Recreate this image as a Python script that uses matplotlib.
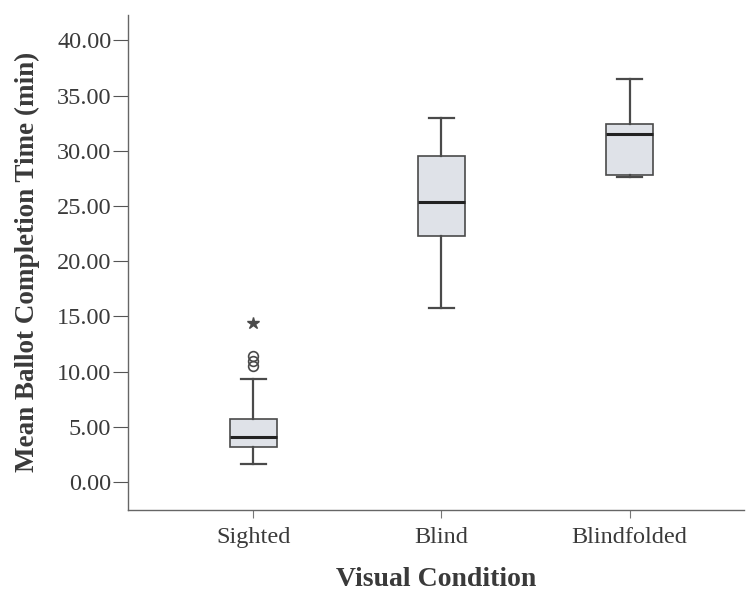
import matplotlib.pyplot as plt

conditions = ["Sighted", "Blind", "Blindfolded"]
q1 = [3.2, 22.3, 27.8]
medians = [4.1, 25.4, 31.5]
q3 = [5.7, 29.5, 32.4]
whisker_lo = [1.6, 15.8, 27.6]
whisker_hi = [9.3, 33.0, 36.5]
outliers = [[10.5, 11.0, 11.4], [], []]
extremes = [[14.4], [], []]

plt.rcParams['font.family'] = ['Liberation Serif', 'DejaVu Serif']
text_col = "#3a3a3a"
line_col = "#4a4a4a"

fig = plt.figure(figsize=(7.46, 5.94), dpi=100)
ax = fig.add_axes([0.1716, 0.1414, 0.826, 0.834])

stats = []
for i, name in enumerate(conditions):
    stats.append(dict(label=name, q1=q1[i], med=medians[i], q3=q3[i],
                      whislo=whisker_lo[i], whishi=whisker_hi[i], fliers=outliers[i]))

pos = [1, 2, 3]
ax.bxp(stats, positions=pos, widths=0.254, patch_artist=True, showfliers=True,
       boxprops=dict(facecolor="#dfe2e8", edgecolor=line_col, linewidth=1.2),
       medianprops=dict(color="#222222", linewidth=2.2),
       whiskerprops=dict(color=line_col, linewidth=1.6),
       capprops=dict(color=line_col, linewidth=1.6),
       capwidths=0.13,
       flierprops=dict(marker="o", markerfacecolor="none", markeredgecolor=line_col,
                       markersize=7, markeredgewidth=1.2))

for i, ext in enumerate(extremes):
    if ext:
        ax.plot([pos[i]] * len(ext), ext, linestyle="none", marker="*",
                color=line_col, markersize=9)

ax.set_xlim(0.333, 3.61)
ax.set_ylim(-2.54, 42.34)
ax.set_yticks([0, 5, 10, 15, 20, 25, 30, 35, 40])
ax.set_yticklabels([f"{v:.2f}" for v in [0, 5, 10, 15, 20, 25, 30, 35, 40]])
ax.set_xticks(pos)
ax.set_xticklabels(conditions)

ax.spines["top"].set_visible(False)
ax.spines["right"].set_visible(False)
for s in ["left", "bottom"]:
    ax.spines[s].set_color("#666666")
    ax.spines[s].set_linewidth(1.0)

ax.tick_params(axis="y", length=11, color="#555555", labelsize=17.5, labelcolor=text_col, pad=1)
ax.tick_params(axis="x", length=6, color="#777777", labelsize=17.5, labelcolor=text_col, pad=6)

ax.set_xlabel("Visual Condition", fontsize=20, fontweight="bold", color=text_col, labelpad=14)
ax.set_ylabel("Mean Ballot Completion Time (min)", fontsize=19.5, fontweight="bold",
              color=text_col, labelpad=12)

fig.savefig("out.png", dpi=100)
